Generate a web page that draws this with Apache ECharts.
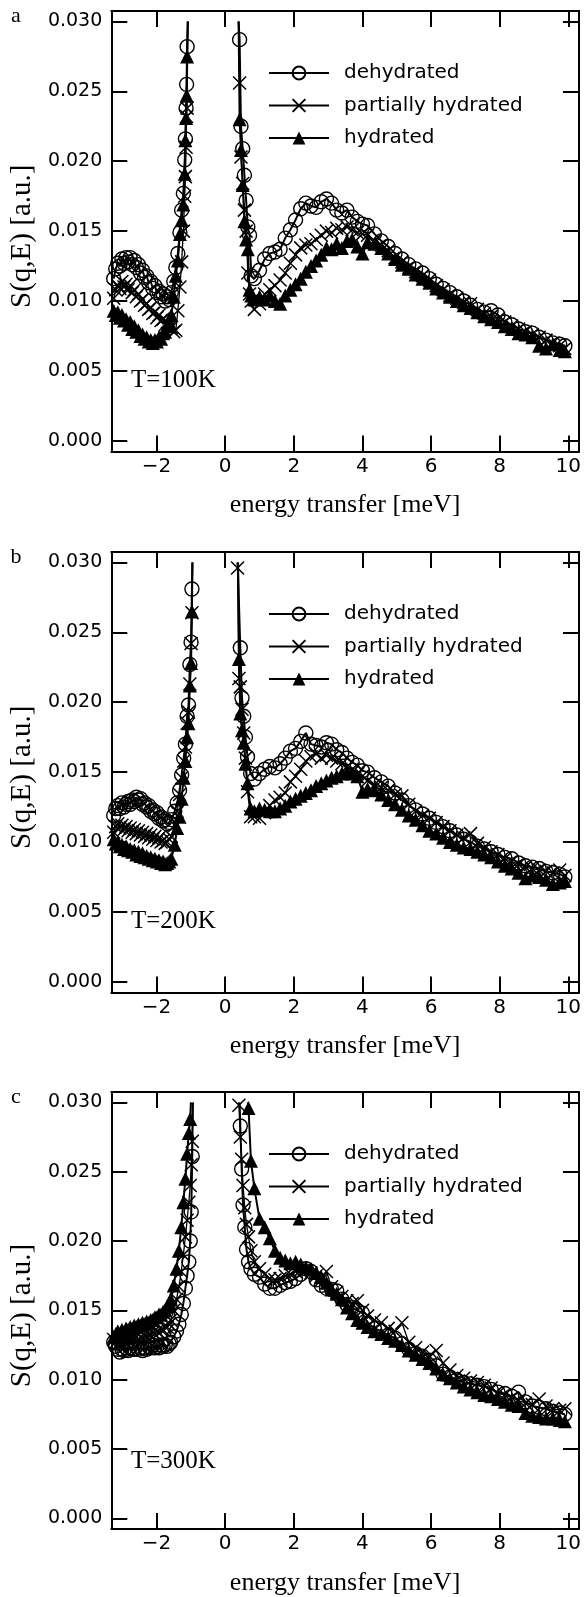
<!DOCTYPE html>
<html>
<head>
<meta charset="utf-8">
<script src="https://cdn.jsdelivr.net/npm/echarts@6/dist/echarts.min.js"></script>
<style>
  html, body { margin: 0; padding: 0; background: #fff; }
  #chart { width: 584px; height: 1597px; }
</style>
</head>
<body>
<div id="chart"></div>
<script>
// energy grids (meV)
const xNegBase = [-3.25, -3.19, -3.13, -3.07, -3.01, -2.95, -2.89, -2.83, -2.77, -2.71, -2.65, -2.59, -2.53, -2.47,
  -2.41, -2.35, -2.29, -2.23, -2.17, -2.11, -2.05, -1.99, -1.93, -1.87, -1.81, -1.75, -1.69, -1.63]
const xTail = [
  0.85, 1.0, 1.15, 1.3, 1.45, 1.6, 1.75, 1.9, 2.05, 2.2, 2.35, 2.5, 2.65,
  2.8, 2.95, 3.1, 3.25, 3.4, 3.55, 3.7, 3.85, 4.0, 4.15,
  4.35, 4.55, 4.75, 4.95, 5.15, 5.35, 5.55, 5.75, 5.95, 6.15, 6.35, 6.55, 6.75, 6.95,
  7.15, 7.35, 7.55, 7.75, 7.95, 8.15, 8.35, 8.55, 8.75, 8.95, 9.15, 9.35, 9.55, 9.75,
  9.9,
]
const PEAK_TOP = 0.030 // elastic line leaves the frame here

const SAMPLES = ['dehydrated', 'partially hydrated', 'hydrated']
const X_TICKS = [-2, 0, 2, 4, 6, 8, 10]
const Y_TICKS = [0, 0.005, 0.01, 0.015, 0.02, 0.025, 0.03]

// ---- a: T=100K ----
const xRiseA = [-1.57, -1.50, -1.44, -1.38, -1.32, -1.27, -1.22, -1.18, -1.16, -1.14, -1.125, -1.11]
const xHeadA = [0.42, 0.46, 0.51, 0.56, 0.61, 0.66, 0.71, 0.76]
const edgeLeftA = [-1.09, -1.09, -1.09]
const edgeRightA = [0.39, 0.39, 0.39]
const aDehydBase = [0.0116, 0.0123, 0.0127, 0.0125, 0.0130, 0.0127, 0.0131, 0.0128, 0.0131, 0.0126, 0.0129, 0.0124, 0.0126, 0.0120,
  0.0122, 0.0117, 0.0118, 0.0113, 0.0114, 0.0109, 0.0111, 0.0106, 0.0107, 0.0103, 0.0105, 0.0100, 0.0103, 0.0101]
const aPartBase = [0.0102, 0.0108, 0.0111, 0.0109, 0.0114, 0.0110, 0.0112, 0.0108, 0.0111, 0.0106, 0.0108, 0.0103, 0.0105, 0.0100,
  0.0101, 0.0097, 0.0098, 0.0094, 0.0095, 0.0091, 0.0092, 0.0088, 0.0090, 0.0086, 0.0087, 0.0083, 0.0085, 0.0081]
const aHydBase = [0.0093, 0.0090, 0.0092, 0.0088, 0.0090, 0.0086, 0.0087, 0.0083, 0.0085, 0.0080, 0.0082, 0.0078, 0.0079, 0.0075,
  0.0076, 0.0073, 0.0074, 0.0071, 0.0072, 0.0070, 0.0072, 0.0071, 0.0074, 0.0073, 0.0077, 0.0078, 0.0082, 0.0085]
const aDehydRise = [0.0106, 0.0114, 0.0124, 0.0134, 0.0149, 0.0165, 0.0177, 0.0201, 0.0216, 0.0238, 0.0255, 0.0282]
const aPartRise = [0.0081, 0.0078, 0.0079, 0.0093, 0.0110, 0.0128, 0.0150, 0.0175, 0.0189, 0.0210, 0.0232, 0.0238]
const aHydRise = [0.0090, 0.0103, 0.0118, 0.0129, 0.0148, 0.0158, 0.0169, 0.0191, 0.0215, 0.0231, 0.0247, 0.0275]
const aDehydHead = [0.0287, 0.0225, 0.0209, 0.0190, 0.0172, 0.0153, 0.0147, 0.0118]
const aPartHead = [0.0256, 0.0203, 0.0184, 0.0165, 0.0150, 0.0120, 0.0105, 0.0100]
const aHydHead = [0.0230, 0.0208, 0.0183, 0.0157, 0.0144, 0.0137, 0.0108, 0.0104]
const aDehydTail = [
  0.0116, 0.0122, 0.0130, 0.0134, 0.0135, 0.0137, 0.0145, 0.0151, 0.0158, 0.0166, 0.0170, 0.0168, 0.0167,
  0.0171, 0.0173, 0.0170, 0.0165, 0.0163, 0.0165, 0.0160, 0.0157, 0.0155, 0.0154,
  0.0148, 0.0143, 0.0139, 0.0134, 0.0130, 0.0126, 0.0123, 0.0120, 0.0116, 0.0112, 0.0109, 0.0106, 0.0103, 0.0100,
  0.0097, 0.0094, 0.0092, 0.0093, 0.0090, 0.0085, 0.0083, 0.0080, 0.0078, 0.0077, 0.0074, 0.0072, 0.0070, 0.0069,
  0.0068]
const aPartTail = [
  0.0094, 0.0098, 0.0105, 0.0108, 0.0111, 0.0115, 0.0120, 0.0127, 0.0133, 0.0138, 0.0140, 0.0141, 0.0144,
  0.0147, 0.0150, 0.0149, 0.0152, 0.0151, 0.0153, 0.0151, 0.0149, 0.0148, 0.0147,
  0.0143, 0.0140, 0.0136, 0.0131, 0.0128, 0.0124, 0.0121, 0.0118, 0.0115, 0.0111, 0.0108, 0.0104, 0.0102, 0.0099,
  0.0098, 0.0094, 0.0091, 0.0089, 0.0087, 0.0085, 0.0082, 0.0080, 0.0078, 0.0076, 0.0074, 0.0072, 0.0070, 0.0068,
  0.0066]
const aHydTail = [
  0.0101, 0.0103, 0.0101, 0.0104, 0.0100, 0.0098, 0.0104, 0.0108, 0.0112, 0.0116, 0.0121, 0.0125, 0.0129,
  0.0133, 0.0138, 0.0137, 0.0141, 0.0138, 0.0143, 0.0144, 0.0139, 0.0134, 0.0142,
  0.0141, 0.0138, 0.0134, 0.0130, 0.0126, 0.0123, 0.0119, 0.0116, 0.0113, 0.0109, 0.0106, 0.0103, 0.0100, 0.0097,
  0.0095, 0.0092, 0.0089, 0.0087, 0.0085, 0.0082, 0.0080, 0.0077, 0.0076, 0.0074, 0.0068, 0.0066, 0.0069, 0.0065,
  0.0064]

// ---- b: T=200K ----
const xRiseB = [-1.57, -1.47, -1.40, -1.33, -1.27, -1.21, -1.16, -1.11, -1.07, -1.03, -0.995, -0.97]
const xHeadB = [0.36, 0.40, 0.44, 0.49, 0.54, 0.59, 0.65, 0.74]
const edgeLeftB = [-0.955, -0.955, -0.955]
const edgeRightB = [0.365, 0.35, 0.375]
const bDehydBase = [0.0119, 0.0124, 0.0126, 0.0124, 0.0128, 0.0125, 0.0127, 0.0129, 0.0127, 0.0130, 0.0129, 0.0132, 0.0130, 0.0131,
  0.0127, 0.0128, 0.0125, 0.0126, 0.0122, 0.0123, 0.0120, 0.0121, 0.0117, 0.0118, 0.0115, 0.0116, 0.0113, 0.0114]
const bPartBase = [0.0107, 0.0111, 0.0113, 0.0110, 0.0112, 0.0109, 0.0111, 0.0108, 0.0110, 0.0107, 0.0109, 0.0106, 0.0108, 0.0105,
  0.0107, 0.0104, 0.0106, 0.0103, 0.0105, 0.0102, 0.0104, 0.0101, 0.0103, 0.0100, 0.0101, 0.0099, 0.0100, 0.0102]
const bHydBase = [0.0102, 0.0099, 0.0100, 0.0097, 0.0098, 0.0095, 0.0097, 0.0094, 0.0095, 0.0093, 0.0094, 0.0091, 0.0093, 0.0090,
  0.0092, 0.0089, 0.0090, 0.0088, 0.0089, 0.0087, 0.0088, 0.0086, 0.0087, 0.0085, 0.0086, 0.0084, 0.0085, 0.0086]
const bDehydRise = [0.0116, 0.0122, 0.0128, 0.0137, 0.0148, 0.0160, 0.0170, 0.0190, 0.0198, 0.0227, 0.0243, 0.0281]
const bPartRise = [0.0104, 0.0112, 0.0122, 0.0134, 0.0146, 0.0158, 0.0168, 0.0185, 0.0193, 0.0213, 0.0242, 0.0264]
const bHydRise = [0.0088, 0.0098, 0.0110, 0.0118, 0.0131, 0.0146, 0.0158, 0.0175, 0.0185, 0.0212, 0.0228, 0.0265]
const bDehydHead = ['-', '-', 0.0239, 0.0203, 0.0190, 0.0175, 0.0161, 0.0149]
const bPartHead = [0.0296, 0.0217, 0.0211, 0.0195, 0.0178, 0.0160, 0.0136, 0.0118]
const bHydHead = ['-', 0.0231, 0.0192, 0.0180, 0.0171, 0.0156, 0.0142, 0.0124]
const bDehydTail = [
  0.0145, 0.0149, 0.0152, 0.0154, 0.0153, 0.0156, 0.0160, 0.0165, 0.0167, 0.0172, 0.0178, 0.0170, 0.0169,
  0.0168, 0.0171, 0.0170, 0.0166, 0.0164, 0.0160, 0.0157, 0.0155, 0.0151, 0.0150,
  0.0146, 0.0143, 0.0140, 0.0135, 0.0130, 0.0126, 0.0123, 0.0120, 0.0117, 0.0114, 0.0111, 0.0108, 0.0105, 0.0102,
  0.0100, 0.0097, 0.0095, 0.0093, 0.0091, 0.0089, 0.0088, 0.0085, 0.0083, 0.0082, 0.0081, 0.0079, 0.0078, 0.0077,
  0.0075]
const bPartTail = [
  0.0118, 0.0117, 0.0121, 0.0126, 0.0130, 0.0132, 0.0135, 0.0143, 0.0147, 0.0152, 0.0158, 0.0161, 0.0163,
  0.0160, 0.0162, 0.0160, 0.0158, 0.0156, 0.0154, 0.0152, 0.0149, 0.0147, 0.0144,
  0.0141, 0.0139, 0.0137, 0.0134, 0.0133, 0.0127, 0.0122, 0.0119, 0.0117, 0.0114, 0.0111, 0.0108, 0.0105, 0.0103,
  0.0106, 0.0099, 0.0096, 0.0093, 0.0091, 0.0088, 0.0086, 0.0084, 0.0082, 0.0081, 0.0080, 0.0079, 0.0078, 0.0080,
  0.0076]
const bHydTail = [
  0.0122, 0.0124, 0.0123, 0.0122, 0.0122, 0.0124, 0.0126, 0.0129, 0.0131, 0.0133, 0.0135, 0.0137, 0.0140,
  0.0142, 0.0144, 0.0146, 0.0147, 0.0149, 0.0150, 0.0149, 0.0147, 0.0136, 0.0138,
  0.0137, 0.0134, 0.0130, 0.0127, 0.0123, 0.0119, 0.0116, 0.0112, 0.0108, 0.0106, 0.0103, 0.0100, 0.0098, 0.0096,
  0.0095, 0.0093, 0.0091, 0.0089, 0.0086, 0.0083, 0.0081, 0.0078, 0.0074, 0.0076, 0.0075, 0.0073, 0.0070, 0.0071,
  0.0072]

// ---- c: T=300K ----
const xRiseC = [-1.59, -1.50, -1.42, -1.35, -1.28, -1.22, -1.16, -1.11, -1.06, -1.02, -0.99, -0.96]
const xHeadC = [0.40, 0.44, 0.48, 0.52, 0.57, 0.62, 0.68, 0.75]
const edgeLeftC = [-0.95, -0.93, -1.0]
const edgeRightC = [0.42, 0.39, 0.66]
const cDehydBase = [0.0127, 0.0124, 0.0122, 0.0120, 0.0122, 0.0121, 0.0123, 0.0121, 0.0123, 0.0122, 0.0122, 0.0124, 0.0122, 0.0123,
  0.0121, 0.0123, 0.0122, 0.0124, 0.0123, 0.0125, 0.0123, 0.0124, 0.0123, 0.0125, 0.0124, 0.0125, 0.0124, 0.0126]
const cPartBase = [0.0129, 0.0127, 0.0125, 0.0127, 0.0126, 0.0128, 0.0127, 0.0129, 0.0128, 0.0130, 0.0129, 0.0131, 0.0129, 0.0131,
  0.0130, 0.0132, 0.0131, 0.0133, 0.0132, 0.0134, 0.0133, 0.0135, 0.0134, 0.0136, 0.0136, 0.0138, 0.0138, 0.0140]
const cHydBase = [0.0131, 0.0133, 0.0135, 0.0133, 0.0136, 0.0134, 0.0137, 0.0136, 0.0138, 0.0137, 0.0139, 0.0138, 0.0140, 0.0139,
  0.0141, 0.0140, 0.0142, 0.0141, 0.0143, 0.0143, 0.0145, 0.0145, 0.0147, 0.0147, 0.0149, 0.0150, 0.0153, 0.0155]
const cDehydRise = [0.0127, 0.0131, 0.0135, 0.0140, 0.0147, 0.0155, 0.0166, 0.0175, 0.0185, 0.0200, 0.0221, 0.0261]
const cPartRise = [0.0143, 0.0150, 0.0158, 0.0167, 0.0178, 0.0190, 0.0203, 0.0215, 0.0228, 0.0240, 0.0255, 0.0272]
const cHydRise = [0.0158, 0.0168, 0.0180, 0.0193, 0.0210, 0.0228, 0.0245, 0.0263, 0.0278, 0.0288, '-', '-']
const cDehydHead = ['-', 0.0283, 0.0252, 0.0226, 0.0210, 0.0194, 0.0185, 0.0180]
const cPartHead = [0.0298, 0.0275, 0.0259, 0.0240, 0.0224, 0.0212, 0.0203, 0.0193]
const cHydHead = ['-', '-', '-', '-', '-', '-', 0.0296, 0.0258]
const cDehydTail = [
  0.0176, 0.0174, 0.0169, 0.0166, 0.0166, 0.0168, 0.0170, 0.0171, 0.0173, 0.0176, 0.0180, 0.0178, 0.0172,
  0.0168, 0.0166, 0.0165, 0.0164, 0.0158, 0.0154, 0.0152, 0.0150, 0.0148, 0.0141,
  0.0137, 0.0135, 0.0132, 0.0130, 0.0126, 0.0122, 0.0119, 0.0117, 0.0114, 0.0110, 0.0104, 0.0102, 0.0100, 0.0098,
  0.0097, 0.0096, 0.0095, 0.0093, 0.0091, 0.0090, 0.0088, 0.0091, 0.0084, 0.0081, 0.0080, 0.0079, 0.0077, 0.0076,
  0.0075]
const cPartTail = [
  0.0185, 0.0180, 0.0176, 0.0173, 0.0172, 0.0173, 0.0175, 0.0176, 0.0178, 0.0179, 0.0179, 0.0177, 0.0175,
  0.0172, 0.0178, 0.0167, 0.0163, 0.0160, 0.0157, 0.0155, 0.0157, 0.0150, 0.0146,
  0.0143, 0.0141, 0.0137, 0.0135, 0.0141, 0.0127, 0.0123, 0.0120, 0.0117, 0.0121, 0.0112, 0.0107, 0.0103, 0.0101,
  0.0099, 0.0098, 0.0096, 0.0094, 0.0090, 0.0089, 0.0087, 0.0085, 0.0083, 0.0082, 0.0086, 0.0081, 0.0079, 0.0078,
  0.0079]
const cHydTail = [
  0.0238, 0.0216, 0.0210, 0.0202, 0.0193, 0.0188, 0.0186, 0.0184, 0.0185, 0.0183, 0.0181, 0.0180, 0.0177,
  0.0174, 0.0170, 0.0165, 0.0162, 0.0158, 0.0152, 0.0148, 0.0143, 0.0141, 0.0138,
  0.0135, 0.0133, 0.0130, 0.0128, 0.0125, 0.0121, 0.0118, 0.0115, 0.0112, 0.0108, 0.0104, 0.0101, 0.0098, 0.0095,
  0.0093, 0.0091, 0.0089, 0.0088, 0.0086, 0.0084, 0.0082, 0.0081, 0.0076, 0.0074, 0.0073, 0.0072, 0.0072, 0.0071,
  0.0070]

const panels = [
  { top: 11, letter: 'a', temp: 'T=100K', xRise: xRiseA, xHead: xHeadA, edgeL: edgeLeftA, edgeR: edgeRightA,
    base: [aDehydBase, aPartBase, aHydBase], rise: [aDehydRise, aPartRise, aHydRise],
    head: [aDehydHead, aPartHead, aHydHead], tail: [aDehydTail, aPartTail, aHydTail] },
  { top: 552, letter: 'b', temp: 'T=200K', xRise: xRiseB, xHead: xHeadB, edgeL: edgeLeftB, edgeR: edgeRightB,
    base: [bDehydBase, bPartBase, bHydBase], rise: [bDehydRise, bPartRise, bHydRise],
    head: [bDehydHead, bPartHead, bHydHead], tail: [bDehydTail, bPartTail, bHydTail] },
  { top: 1092, letter: 'c', temp: 'T=300K', xRise: xRiseC, xHead: xHeadC, edgeL: edgeLeftC, edgeR: edgeRightC,
    base: [cDehydBase, cPartBase, cHydBase], rise: [cDehydRise, cPartRise, cHydRise],
    head: [cDehydHead, cPartHead, cHydHead], tail: [cDehydTail, cPartTail, cHydTail] },
]

const BOX_H = 440.5
const TICK_FONT = { color: '#000', fontFamily: 'DejaVu Sans', fontSize: 20 }
const SERIF = '"Liberation Serif", "Times New Roman", serif'

const MARKS = [
  { symbol: 'circle', symbolSize: 14, lineWidth: 2,
    itemStyle: { color: 'rgba(0,0,0,0)', borderColor: '#000', borderWidth: 1.4 } },
  { symbol: 'path://M0,0L10,10M10,0L0,10', symbolSize: 13, lineWidth: 1.3,
    itemStyle: { color: 'rgba(0,0,0,0)', borderColor: '#000', borderWidth: 1.5 } },
  { symbol: 'triangle', symbolSize: 14, lineWidth: 2,
    itemStyle: { color: '#000', borderColor: '#000', borderWidth: 0 } },
]

function points(p, k) {
  const out = []
  const push = (xs, ys) => xs.forEach((x, i) => { if (ys[i] !== '-' && ys[i] != null) out.push([x, ys[i]]) })
  push(xNegBase.concat(p.xRise), p.base[k].concat(p.rise[k]))
  out.push({ value: [p.edgeL[k], PEAK_TOP], symbol: 'none' })
  out.push([(p.edgeL[k] + p.edgeR[k]) / 2, '-'])
  out.push({ value: [p.edgeR[k], PEAK_TOP], symbol: 'none' })
  push(p.xHead.concat(xTail), p.head[k].concat(p.tail[k]))
  return out
}

const grid = [], xAxis = [], yAxis = [], series = [], legend = [], graphic = []
panels.forEach((p, g) => {
  grid.push({ left: 110, right: 2.7, top: p.top, height: BOX_H })
  const xBase = {
    gridIndex: g, type: 'value', min: -3.32, max: 10.31,
    axisLine: { onZero: false, lineStyle: { color: '#000', width: 2 } },
    axisTick: { inside: true, length: 16, customValues: X_TICKS, lineStyle: { color: '#000', width: 2 } },
    splitLine: { show: false },
  }
  xAxis.push(Object.assign({}, xBase, {
    position: 'bottom',
    name: 'energy transfer [meV]', nameLocation: 'middle', nameGap: 41,
    nameTextStyle: { color: '#000', fontFamily: SERIF, fontSize: 26 },
    axisLabel: Object.assign({ customValues: X_TICKS, margin: 5,
      formatter: (v) => String(v).replace('-', '\u2212') }, TICK_FONT),
  }))
  xAxis.push(Object.assign({}, xBase, { position: 'top', axisLabel: { show: false } }))
  const yBase = {
    gridIndex: g, type: 'value', min: -0.00077, max: 0.03075,
    axisLine: { onZero: false, lineStyle: { color: '#000', width: 2 } },
    axisTick: { inside: true, length: 16, customValues: Y_TICKS, lineStyle: { color: '#000', width: 2 } },
    splitLine: { show: false },
  }
  yAxis.push(Object.assign({}, yBase, {
    position: 'left',
    name: 'S(q,E) [a.u.]', nameLocation: 'middle', nameGap: 72, nameRotate: 90,
    nameTextStyle: { color: '#000', fontFamily: SERIF, fontSize: 29, padding: [0, 10, 0, 0] },
    axisLabel: Object.assign({ customValues: Y_TICKS, margin: 9, formatter: (v) => v.toFixed(3) },
      TICK_FONT, { fontSize: 19 }),
  }))
  yAxis.push(Object.assign({}, yBase, { position: 'right', axisLabel: { show: false } }))

  SAMPLES.forEach((name, k) => {
    const m = MARKS[k]
    series.push({
      name, type: 'line', xAxisIndex: g * 2, yAxisIndex: g * 2,
      data: points(p, k),
      symbol: m.symbol, symbolSize: m.symbolSize, showAllSymbol: true,
      itemStyle: m.itemStyle,
      lineStyle: { color: '#000', width: m.lineWidth },
      connectNulls: false, z: 2 + k,
    })
  })

  legend.push({
    top: p.top + 52, left: 268, padding: 0, orient: 'vertical',
    itemWidth: 60, itemHeight: 16, itemGap: 12.5, selectedMode: false,
    data: SAMPLES,
    textStyle: Object.assign({ padding: [0, 0, 0, 10], lineHeight: 20 }, TICK_FONT),
  })

  graphic.push(
    { type: 'text', x: 16, y: p.top + 5,
      style: { text: p.letter, font: '22px ' + SERIF, fill: '#000', align: 'center', verticalAlign: 'middle' } },
    { type: 'text', x: 131, y: p.top + 369,
      style: { text: p.temp, font: '25px ' + SERIF, fill: '#000', align: 'left', verticalAlign: 'middle' } },
  )
})

const chart = echarts.init(document.getElementById('chart'), null, { renderer: 'canvas' })
chart.setOption({
  animation: false,
  backgroundColor: '#fff',
  grid, xAxis, yAxis, series, legend, graphic,
})
</script>
</body>
</html>
